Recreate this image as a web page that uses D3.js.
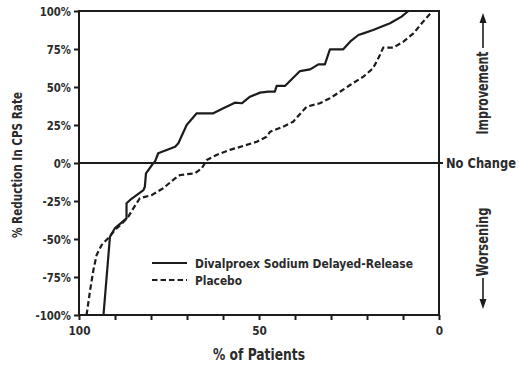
<!DOCTYPE html>
<html>
<head>
<meta charset="utf-8">
<script src="https://cdn.jsdelivr.net/npm/d3@7"></script>
<style>
  html, body { margin: 0; padding: 0; background: #fff; }
  svg text { font-family: "DejaVu Sans Condensed", "DejaVu Sans", sans-serif; font-stretch: condensed; font-weight: bold; fill: #2b2b2b; }
</style>
</head>
<body>
<svg id="chart" width="525" height="372"></svg>
<script>
// % of patients (x) and % reduction in CPS rate (y)
const DIVAL_X = [93.2, 91.4, 90.0, 86.8, 86.8, 85.8, 82.1, 81.7, 81.4, 79.4, 78.9, 78.0, 73.3, 72.4, 70.1, 67.3,
                 62.7, 59.9, 56.7, 54.8, 52.5, 49.7, 47.4, 45.6, 45.1, 42.8, 38.6, 35.8, 33.5, 31.7, 30.3, 26.6,
                 24.7, 22.4, 21.0, 18.3, 13.6, 10.4, 8.5];
const DIVAL_Y = [-100, -48.5, -42.8, -36.4, -26.5, -24.3, -17.8, -15.6, -6.8, -0.2, 0.9, 6.4, 10.7, 13, 25, 32.7,
                 32.7, 36, 39.7, 39.3, 43.6, 46.3, 46.9, 46.9, 50.7, 50.7, 60.5, 61.6, 64.9, 64.9, 74.8, 74.8,
                 79.8, 84.2, 85.3, 87.5, 91.9, 96.3, 100];

const PLACEBO_X = [97.9, 96.9, 96.0, 95.1, 93.7, 91.9, 90.0, 88.1, 86.3, 84.9, 83.1, 79.8, 76.6, 73.3, 71.9, 67.8,
                   65.9, 64.5, 61.8, 58.1, 54.4, 50.6, 47.9, 46.9, 43.3, 40.5, 36.8, 33.1, 30.3, 27.5, 24.7, 21.0,
                   18.3, 16.4, 15.5, 12.7, 9.9, 7.1, 4.8, 1.8];
const PLACEBO_Y = [-100, -83.6, -70.4, -60.5, -53.9, -49.5, -44, -40, -35.3, -29.8, -23.2, -21.1, -16.6, -10.1, -7.9, -6.8,
                   -3.5, 2.0, 5.3, 8.6, 11.2, 14.0, 17.3, 20.6, 23.9, 27.2, 37.0, 39.3, 42.6, 46.9, 51.3, 56.8,
                   62.3, 71.1, 75.9, 75.9, 79.8, 85.3, 91.9, 100];

const Y_TICKS = [100, 75, 50, 25, 0, -25, -50, -75, -100];
const X_TICKS = [100, 90, 80, 70, 60, 50, 40, 30, 20, 10, 0];
const X_LABELED = [100, 50, 0];

const SERIES = [
  { name: "Divalproex Sodium Delayed-Release", xs: DIVAL_X, ys: DIVAL_Y, dash: null },
  { name: "Placebo", xs: PLACEBO_X, ys: PLACEBO_Y, dash: "5.5,3" },
];

const L = 79, R = 439, T = 11, B = 315;
const INK = "#1c1c1c";

const svg = d3.select("#chart");

// squeeze a text to a target width (the original uses a condensed face)
function squeeze(sel, ratio) {
  sel.each(function () {
    const w = this.getComputedTextLength();
    d3.select(this).attr("textLength", w * ratio).attr("lengthAdjust", "spacingAndGlyphs");
  });
}

const x = d3.scaleLinear().domain([100, 0]).range([L, R]);
const y = d3.scaleLinear().domain([-100, 100]).range([B, T]);

// frame
svg.append("rect")
  .attr("x", L).attr("y", T).attr("width", R - L).attr("height", B - T)
  .attr("fill", "none").attr("stroke", INK).attr("stroke-width", 2);

// zero line
svg.append("line")
  .attr("x1", L).attr("x2", R + 4).attr("y1", y(0)).attr("y2", y(0))
  .attr("stroke", INK).attr("stroke-width", 1.8);

// y axis
const yAxis = svg.append("g").attr("transform", "translate(" + L + ",0)")
  .call(d3.axisLeft(y).tickValues(Y_TICKS).tickSize(5).tickPadding(3).tickFormat(d => d + "%"));
yAxis.select(".domain").remove();
yAxis.selectAll(".tick line").attr("stroke", INK).attr("stroke-width", 2);
yAxis.selectAll(".tick text").style("font-size", "12.5px").call(squeeze, 0.9);

// x axis
const xAxis = svg.append("g").attr("transform", "translate(0," + B + ")")
  .call(d3.axisBottom(x).tickValues(X_TICKS).tickSize(5).tickPadding(6)
    .tickFormat(d => X_LABELED.includes(d) ? d : ""));
xAxis.select(".domain").remove();
xAxis.selectAll(".tick line").attr("stroke", INK).attr("stroke-width", 2);
xAxis.selectAll(".tick text").style("font-size", "13px").call(squeeze, 0.9);

// axis titles
svg.append("text")
  .attr("transform", "translate(22,165) rotate(-90)")
  .attr("text-anchor", "middle")
  .style("font-size", "14.5px")
  .attr("textLength", 146).attr("lengthAdjust", "spacingAndGlyphs")
  .text("% Reduction In CPS Rate");

svg.append("text")
  .attr("x", 259).attr("y", 360)
  .attr("text-anchor", "middle")
  .style("font-size", "16.5px")
  .attr("textLength", 92).attr("lengthAdjust", "spacingAndGlyphs")
  .text("% of Patients");

// curves
const line = d3.line().x(d => x(d[0])).y(d => y(d[1]));
SERIES.forEach(s => {
  const pts = s.xs.map((v, i) => [v, s.ys[i]]);
  svg.append("path")
    .attr("d", line(pts))
    .attr("fill", "none")
    .attr("stroke", INK)
    .attr("stroke-width", 2.2)
    .attr("stroke-linejoin", "round")
    .attr("stroke-dasharray", s.dash);
});

// legend
const LEGEND_W = [218, 47];
const lg = svg.append("g").attr("transform", "translate(152,263)");
SERIES.forEach((s, i) => {
  lg.append("line")
    .attr("x1", 0).attr("x2", 35).attr("y1", i * 17).attr("y2", i * 17)
    .attr("stroke", INK).attr("stroke-width", 2.2)
    .attr("stroke-dasharray", s.dash);
  lg.append("text")
    .attr("x", 43).attr("y", i * 17).attr("dy", "0.35em")
    .style("font-size", "13px")
    .attr("textLength", LEGEND_W[i]).attr("lengthAdjust", "spacingAndGlyphs")
    .text(s.name);
});

// right-hand annotations
svg.append("text")
  .attr("x", 446).attr("y", y(0)).attr("dy", "0.35em")
  .style("font-size", "14.5px")
  .attr("textLength", 70).attr("lengthAdjust", "spacingAndGlyphs")
  .text("No Change");

const ax = 483;
function arrow(y0, y1) {
  const dir = y1 < y0 ? 1 : -1;
  const yb = y1 + dir * 10;
  svg.append("line")
    .attr("x1", ax).attr("x2", ax).attr("y1", y0).attr("y2", yb)
    .attr("stroke", INK).attr("stroke-width", 1.6);
  svg.append("path")
    .attr("d", d3.line()([[ax - 3.5, yb], [ax, y1], [ax + 3.5, yb]]) + "Z")
    .attr("fill", INK);
}

svg.append("text")
  .attr("transform", "translate(" + (ax + 5) + ",93) rotate(-90)")
  .attr("text-anchor", "middle")
  .style("font-size", "15px")
  .attr("textLength", 83).attr("lengthAdjust", "spacingAndGlyphs")
  .text("Improvement");
arrow(48, 13);

svg.append("text")
  .attr("transform", "translate(" + (ax + 5) + ",242) rotate(-90)")
  .attr("text-anchor", "middle")
  .style("font-size", "15px")
  .attr("textLength", 69).attr("lengthAdjust", "spacingAndGlyphs")
  .text("Worsening");
arrow(278, 309);
</script>
</body>
</html>
